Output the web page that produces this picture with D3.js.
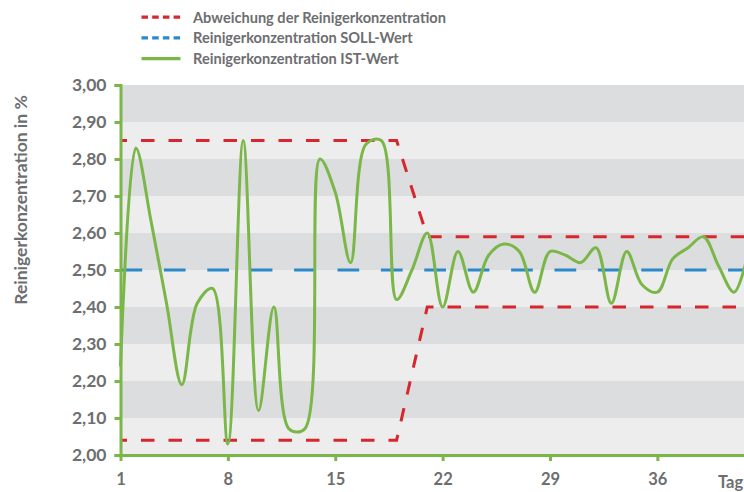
<!DOCTYPE html>
<html>
<head>
<meta charset="utf-8">
<script src="https://cdn.jsdelivr.net/npm/d3@7"></script>
<style>
  html, body { margin: 0; padding: 0; background: #ffffff; }
  svg { display: block; font-family: Lato, "Open Sans", sans-serif; font-weight: 700; }
</style>
</head>
<body>
<svg id="chart" width="744" height="492"></svg>
<script>
// ---- data ----
const days = d3.range(1, 43);
const istValues = [2.24, 2.83, 2.63, 2.41, 2.19, 2.41, 2.45, 2.03, 2.85, 2.12,
                   2.40, 2.07, 2.07, 2.80, 2.71, 2.52, 2.84, 2.85, 2.42, 2.50,
                   2.60, 2.40, 2.55, 2.44, 2.54, 2.57, 2.55, 2.44, 2.55, 2.54,
                   2.52, 2.56, 2.41, 2.55, 2.46, 2.44, 2.53, 2.56, 2.59, 2.51,
                   2.44, 2.56];
const sollDays = [1, 42];
const sollValues = [2.50, 2.50];
const upperDays = [1, 19, 21, 42];
const upperValues = [2.85, 2.85, 2.59, 2.59];
const lowerDays = [1, 19, 21, 42];
const lowerValues = [2.04, 2.04, 2.40, 2.40];
const xTicks = [1, 8, 15, 22, 29, 36];
const yTicks = d3.range(0, 11).map(i => +(2 + i * 0.1).toFixed(2));
const legendLabels = ["Abweichung der Reinigerkonzentration",
                      "Reinigerkonzentration SOLL-Wert",
                      "Reinigerkonzentration IST-Wert"];
const yTitle = "Reinigerkonzentration in %";
const xTitle = "Tag";

// ---- styles ----
const cRed = "#d7262d", cBlue = "#2b88c9", cGreen = "#7ab648", cText = "#6d6e70";
const bandDark = "#dcdddf", bandLight = "#ecedec";

const svg = d3.select("#chart");
const x = d3.scaleLinear().domain([1, 42]).range([120.5, 749.4]);
const y = d3.scaleLinear().domain([2, 3]).range([455, 85]);
const plotRight = 744;

// bands
const bands = yTicks.slice(0, -1);
svg.append("g").selectAll("rect").data(bands).join("rect")
  .attr("x", x(1) + 1)
  .attr("width", plotRight - x(1) - 1)
  .attr("y", d => y(d + 0.1))
  .attr("height", d => y(d) - y(d + 0.1))
  .attr("fill", (d, i) => i % 2 === 0 ? bandLight : bandDark);

const line = d3.line().x(d => x(d[0])).y(d => y(d[1]));

// soll
svg.append("path")
  .attr("d", line(sollDays.map((d, i) => [d, sollValues[i]])))
  .attr("fill", "none").attr("stroke", cBlue).attr("stroke-width", 3)
  .attr("stroke-dasharray", "21.7,21.7");

// abweichung
[[upperDays, upperValues], [lowerDays, lowerValues]].forEach(([dd, vv]) => {
  svg.append("path")
    .attr("d", line(dd.map((d, i) => [d, vv[i]])))
    .attr("fill", "none").attr("stroke", cRed).attr("stroke-width", 3)
    .attr("stroke-dasharray", "13.5,14").attr("stroke-dashoffset", 7);
});

// ist
svg.append("path")
  .attr("d", d3.line().x(d => x(d[0])).y(d => y(d[1]))
    .curve(d3.curveCatmullRom.alpha(0.5))(days.map((d, i) => [d, istValues[i]])))
  .attr("fill", "none").attr("stroke", cGreen).attr("stroke-width", 3)
  .attr("stroke-linejoin", "round");

// axes
const yAxis = d3.axisLeft(y).tickValues(yTicks).tickSize(6).tickPadding(8)
  .tickFormat(d => d3.format(".2f")(d).replace(".", ","));
const gy = svg.append("g").attr("transform", `translate(${x(1)},0)`).call(yAxis);
gy.select(".domain").attr("stroke", cGreen).attr("stroke-width", 3);
gy.selectAll(".tick line").attr("stroke", cGreen).attr("stroke-width", 3);
gy.selectAll(".tick text").attr("fill", cText).style("font-size", "17.5px")
  .style("font-family", "Lato").style("font-weight", 700);

const xAxis = d3.axisBottom(x).tickValues(xTicks).tickSize(6).tickPadding(12).tickSizeOuter(0);
const gx = svg.append("g").attr("transform", `translate(0,${y(2)})`).call(xAxis);
gx.select(".domain").attr("stroke", cGreen).attr("stroke-width", 3);
gx.selectAll(".tick line").attr("stroke", cGreen).attr("stroke-width", 3);
gx.selectAll(".tick text").attr("fill", cText).style("font-size", "16.5px")
  .style("font-family", "Lato").style("font-weight", 700);

// titles
svg.append("text").attr("transform", "translate(27,200) rotate(-90)")
  .attr("text-anchor", "middle").attr("fill", cText).style("font-size", "17.5px")
  .text(yTitle);
svg.append("text").attr("x", 718).attr("y", 487.5).attr("fill", cText)
  .style("font-size", "16.5px").text(xTitle);

// legend
const legend = svg.append("g");
const legendStyles = [
  {stroke: cRed, dash: "6.5,4.2"},
  {stroke: cBlue, dash: "6.5,4.2"},
  {stroke: cGreen, dash: null}
];
legendLabels.forEach((lab, i) => {
  const base = 22.7 + i * 20.7;
  legend.append("line").attr("x1", 141.5).attr("x2", 180.5)
    .attr("y1", base - 5.5).attr("y2", base - 5.5)
    .attr("stroke", legendStyles[i].stroke).attr("stroke-width", 3.2)
    .attr("stroke-dasharray", legendStyles[i].dash);
  legend.append("text").attr("x", 193).attr("y", base).attr("fill", cText)
    .style("font-size", "14.6px").text(lab);
});
</script>
</body>
</html>
